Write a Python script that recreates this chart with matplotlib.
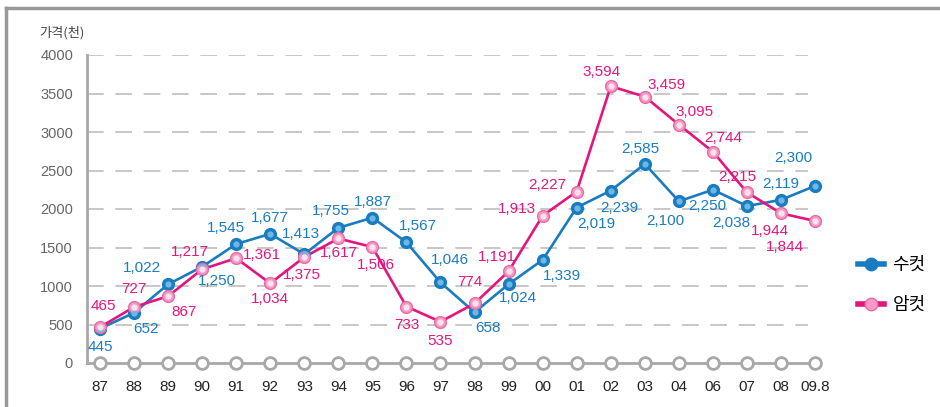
import matplotlib
matplotlib.use("Agg")
import matplotlib.pyplot as plt
from matplotlib.lines import Line2D

plt.rcParams['font.family'] = ['Liberation Sans', 'Noto Sans CJK KR', 'DejaVu Sans']

years = ['87', '88', '89', '90', '91', '92', '93', '94', '95', '96', '97',
         '98', '99', '00', '01', '02', '03', '04', '06', '07', '08', '09.8']
male = [445, 652, 1022, 1250, 1545, 1677, 1413, 1755, 1887, 1567, 1046,
        658, 1024, 1339, 2019, 2239, 2585, 2100, 2250, 2038, 2119, 2300]
female = [465, 727, 867, 1217, 1361, 1034, 1375, 1617, 1506, 733, 535,
          774, 1191, 1913, 2227, 3594, 3459, 3095, 2744, 2215, 1944, 1844]

# label offsets in pixels (dx, dy) for each point
male_off = [(0, -18), (12, -16), (-26, 16), (15, -14), (-10, 16), (0, 16),
            (-3, 20), (-7, 17), (0, 16), (11, 16), (9, 22), (13, -16),
            (9, -14), (19, -16), (20, -16), (9, -17), (-5, 15), (-14, -20),
            (-6, -16), (-16, -17), (0, 16), (-22, 28)]
female_off = [(3, 21), (0, 18), (16, -16), (-12, 17), (26, 3), (0, -16),
              (-2, -18), (1, -15), (4, -18), (0, -18), (0, -19), (-5, 21),
              (-12, 14), (-26, 7), (-29, 7), (-9, 14), (22, 12), (16, 13),
              (10, 14), (-10, 15), (-11, -18), (-30, -26)]

blue = '#1a7cc0'
blue_hi = '#6fb8e6'
pink = '#e5157f'
pink_fill = '#f59bc3'
pink_hi = '#fde3ee'
grey = '#a8a8a8'

fig = plt.figure(figsize=(9.4, 4.07), dpi=100)
ax = fig.add_axes([87 / 940, 44 / 407, 739 / 940, 308 / 407])

x = list(range(len(years)))

# grid lines
for v in range(500, 4001, 500):
    ax.plot([-0.38, 20.8], [v, v], color='#bdbdbd', lw=1.2,
            dashes=(10, 7), zorder=1)

# x axis line with hollow circles
ax.plot([-0.38, 21], [0, 0], color=grey, lw=2, zorder=2, clip_on=False)
ax.plot(x, [0] * len(x), 'o', ms=8.5, mfc='white', mec=grey, mew=2,
        zorder=3, clip_on=False)

# series
ax.plot(x, male, color=blue, lw=1.9, zorder=4, clip_on=False)
ax.plot(x, male, 'o', ms=8.5, color=blue, zorder=5, clip_on=False)
ax.plot(x, male, 'o', ms=3.5, color=blue_hi, zorder=6, clip_on=False)

ax.plot(x, female, color=pink, lw=1.9, zorder=4, clip_on=False)
ax.plot(x, female, 'o', ms=8.5, mfc=pink_fill, mec='#e86aa4', mew=1,
        zorder=5, clip_on=False)
ax.plot(x, female, 'o', ms=3.5, color=pink_hi, zorder=6, clip_on=False)

for i in x:
    ax.annotate(f'{male[i]:,}', (i, male[i]), xytext=male_off[i],
                textcoords='offset pixels', ha='center', va='center',
                color=blue, fontsize=11, zorder=7)
    ax.annotate(f'{female[i]:,}', (i, female[i]), xytext=female_off[i],
                textcoords='offset pixels', ha='center', va='center',
                color=pink, fontsize=11, zorder=7)

ax.set_xlim(-0.38, 21.32)
ax.set_ylim(0, 4000)
ax.set_xticks(x)
ax.set_xticklabels(years, fontsize=11, color='#222222')
ax.set_yticks(range(0, 4001, 500))
ax.set_yticklabels([str(v) for v in range(0, 4001, 500)], fontsize=10.5,
                   color='#666666')
ax.tick_params(length=0)
ax.tick_params(axis='x', pad=12)
ax.tick_params(axis='y', pad=10)
for s in ['top', 'right', 'bottom']:
    ax.spines[s].set_visible(False)
ax.spines['left'].set_color(grey)
ax.spines['left'].set_linewidth(2)

fig.text(62 / 940, 1 - 33 / 407, '가격(천)', ha='center', va='center',
         fontsize=9.5, color='#444444', family=['Noto Sans CJK KR'])

# legend
handles = [Line2D([], [], color=blue, lw=4, marker='o', ms=9, mfc=blue,
                  mec=blue),
           Line2D([], [], color=pink, lw=4, marker='o', ms=9, mfc=pink_fill,
                  mec='#e86aa4')]
leg = fig.legend(handles, ['수컷', '암컷'], loc='center left',
                 bbox_to_anchor=(842 / 940, 1 - 285 / 407), frameon=False,
                 handlelength=1.4, labelspacing=1.2, handletextpad=0.5,
                 prop={'family': 'Noto Sans CJK KR', 'size': 13})

# outer frame (top and left)
fig.add_artist(Line2D([6 / 940, 6 / 940], [0, 1 - 8 / 407], color='#999999',
                      lw=2.5, transform=fig.transFigure))
fig.add_artist(Line2D([6 / 940, 1], [1 - 8 / 407, 1 - 8 / 407],
                      color='#999999', lw=2.5, transform=fig.transFigure))

fig.savefig('out.png', dpi=100)
